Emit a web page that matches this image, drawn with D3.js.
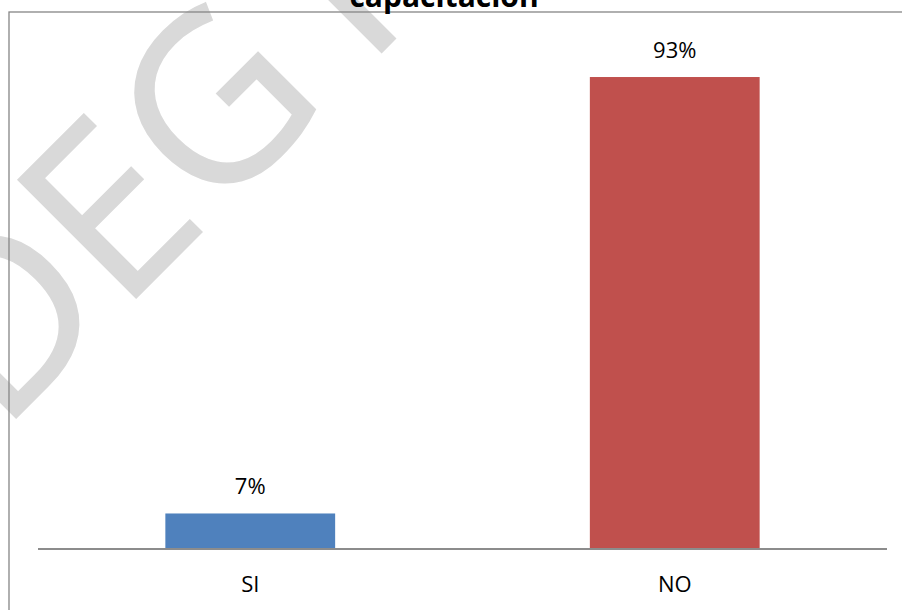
<!DOCTYPE html>
<html>
<head>
<meta charset="utf-8">
<script src="https://cdn.jsdelivr.net/npm/d3@7"></script>
<style>
html,body{margin:0;padding:0;background:#fff;overflow:hidden;}
svg{display:block;}
</style>
</head>
<body>
<svg id="chart" width="902" height="610"></svg>
<script>
const categories = ["SI", "NO"];
const values = [7, 93];
const valueLabels = ["7%", "93%"];
const colors = ["#4f81bd", "#c0504d"];
const titleText = "capacitación";
const watermarkParts = ["DEG", "I"];

const W = 902, H = 610;
const svg = d3.select("#chart");
const font = "'Open Sans', 'Liberation Sans', sans-serif";

// watermark
const wm = svg.append("text")
  .attr("transform", "translate(0,434) rotate(-45)")
  .attr("font-family", font)
  .attr("font-size", 234)
  .attr("fill", "#d9d9d9")
  .attr("stroke", "#d9d9d9")
  .attr("stroke-width", 1.5);
wm.append("tspan").text(watermarkParts[0]);
wm.append("tspan").attr("dx", 47).text(watermarkParts[1]);

// frame
svg.append("rect")
  .attr("x", 9).attr("y", 12)
  .attr("width", 900).attr("height", 700)
  .attr("fill", "none")
  .attr("stroke", "#868686")
  .attr("stroke-width", 1.3);

// title
svg.append("text")
  .attr("x", 444).attr("y", 7)
  .attr("text-anchor", "middle")
  .attr("font-family", font)
  .attr("font-weight", "bold")
  .attr("font-size", 30)
  .attr("fill", "#000")
  .text(titleText);

const plot = {left: 38, right: 887, top: 41.5, bottom: 549};

const x = d3.scaleBand()
  .domain(categories)
  .range([plot.left, plot.right])
  .paddingInner(0.6)
  .paddingOuter(0.3);

const y = d3.scaleLinear()
  .domain([0, 100])
  .range([plot.bottom, plot.top]);

const data = categories.map((c, i) => ({cat: c, v: values[i], label: valueLabels[i], color: colors[i]}));

svg.selectAll("rect.bar")
  .data(data)
  .join("rect")
  .attr("class", "bar")
  .attr("x", d => x(d.cat))
  .attr("y", d => y(d.v))
  .attr("width", x.bandwidth())
  .attr("height", d => y(0) - y(d.v))
  .attr("fill", d => d.color);

svg.selectAll("text.vlabel")
  .data(data)
  .join("text")
  .attr("class", "vlabel")
  .attr("x", d => x(d.cat) + x.bandwidth() / 2)
  .attr("y", d => y(d.v) - 19)
  .attr("text-anchor", "middle")
  .attr("font-family", font)
  .attr("font-size", 22)
  .attr("fill", "#000")
  .text(d => d.label);

// x axis
const xAxis = d3.axisBottom(x).tickSize(0).tickPadding(0);
const gx = svg.append("g")
  .attr("transform", `translate(0,${plot.bottom})`)
  .call(xAxis);
gx.select(".domain")
  .attr("d", `M${plot.left},0H${plot.right}`)
  .attr("stroke", "#8c8c8c")
  .attr("stroke-width", 2);
gx.selectAll(".tick text")
  .attr("dy", null)
  .attr("y", 43)
  .attr("font-family", font)
  .attr("font-size", 22)
  .attr("fill", "#000");
</script>
</body>
</html>
